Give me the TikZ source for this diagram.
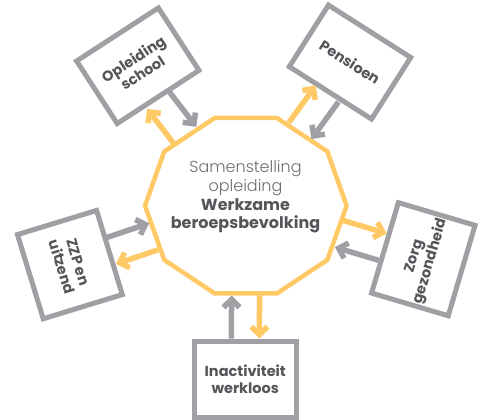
\documentclass[tikz,border=0pt]{standalone}
\usepackage{fontspec}
\setmainfont{Poppins}
\newfontfamily\dun{Poppins Light}
\usetikzlibrary{shapes.geometric,arrows.meta}
\definecolor{goud}{HTML}{FFC966}
\definecolor{grijs}{HTML}{A09FA3}
\definecolor{donker}{HTML}{55555A}
\definecolor{licht}{HTML}{6E6E70}

\begin{document}
\begin{tikzpicture}[x=1pt,y=1pt,
  blok/.style={rectangle,draw=grijs,line width=5pt,fill=white,align=center,
    text=donker,font=\bfseries\fontsize{14.5}{16.7}\selectfont},
  grijspijl/.style={draw=grijs,line width=5.5pt,-{Straight Barb[sharp,length=8pt,width=16pt]}},
  goudpijl/.style={draw=goud,line width=5.5pt,-{Straight Barb[sharp,length=8pt,width=16pt]}}]
\useasboundingbox (0,0) rectangle (488,420);
\node[regular polygon,regular polygon sides=10,draw=goud,line width=4.5pt,
  minimum size=201.6pt,inner sep=0pt,yscale=0.915,transform shape] (dec) at (245.8,214.3) {};
\node[align=center,font=\fontsize{16}{18.7}\selectfont] (titel) at (245.5,223) {\textcolor{licht}{\dun Samenstelling}\\
  \textcolor{licht}{\dun opleiding}\\ \textcolor{donker}{\bfseries Werkzame}\\ \textcolor{donker}{\bfseries beroepsbevolking}};
\node[blok,rotate=33,minimum width=97.5pt,minimum height=74.5pt] (open) at (137.8,354.3) {Opleiding\\school};
\node[blok,rotate=-32.5,minimum width=97.5pt,minimum height=73pt] (pens) at (350,357.9) {Pensioen};
\node[blok,rotate=73.5,minimum width=87pt,minimum height=80pt] (zorg) at (423.3,160.8) {Zorg\\gezondheid};
\node[blok,rotate=-73,minimum width=88pt,minimum height=82.7pt] (zzp) at (69.9,155.4) {ZZP en\\uitzend};
\node[blok,minimum width=102.5pt,minimum height=76.5pt] (inact) at (245.3,40.7) {Inactiviteit\\werkloos};
\path
(open) edge[grijspijl,transform canvas={shift={(37.65:9pt)}}] (dec)
(dec) edge[goudpijl,transform canvas={shift={(217.65:19pt)}}] (open)
(pens) edge[grijspijl,transform canvas={shift={(-35.96:14pt)}}] (dec)
(dec) edge[goudpijl,transform canvas={shift={(144.04:14pt)}}] (pens)
(zorg) edge[grijspijl,transform canvas={shift={(-106.77:14pt)}}] (dec)
(dec) edge[goudpijl,transform canvas={shift={(73.23:14pt)}}] (zorg)
(zzp) edge[grijspijl,transform canvas={shift={(108.5:14pt)}}] (dec)
(dec) edge[goudpijl,transform canvas={shift={(288.5:14pt)}}] (zzp)
(inact) edge[grijspijl,transform canvas={shift={(180:14pt)}}] (dec)
(dec) edge[goudpijl,transform canvas={shift={(0:14pt)}}] (inact)
;
\end{tikzpicture}
\end{document}
